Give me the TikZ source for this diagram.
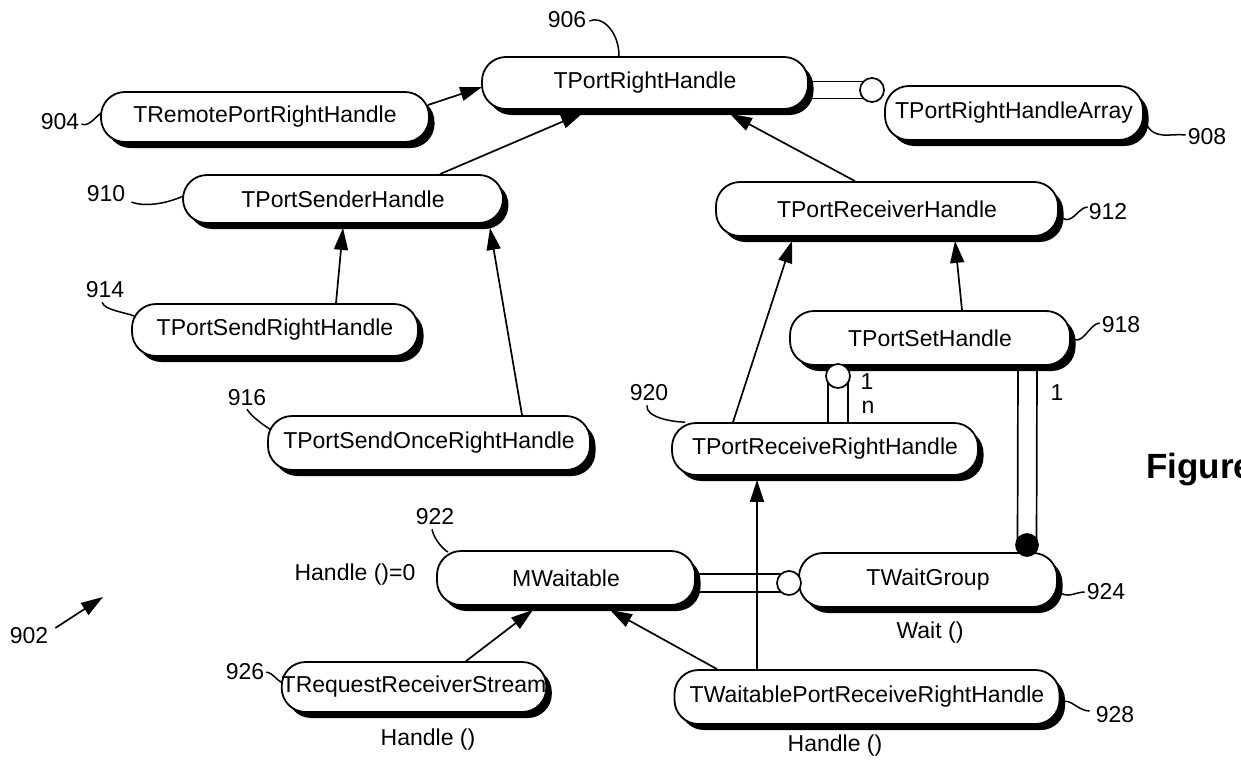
\documentclass[tikz,border=0pt]{standalone}
\usepackage{fontspec}
\setmainfont{Liberation Sans}
\usetikzlibrary{arrows.meta,shadows,calc}
\pgfdeclarelayer{bg}
\pgfsetlayers{bg,main}
\begin{document}
\begin{tikzpicture}[x=1pt,y=-1pt,
  font=\fontsize{23}{26}\selectfont,
  cls/.style={draw, line width=1.8pt, fill=white, rounded corners=24pt, inner sep=0pt,
    drop shadow={shadow xshift=5.5pt, shadow yshift=-6pt, opacity=1, fill=black}},
  arr/.style={line width=1.7pt, -{Triangle[length=22pt,width=14pt]}},
  lead/.style={line width=1.5pt},
  tube/.style={line width=1.7pt},
  ocirc/.style={circle, draw, line width=1.7pt, fill=white, minimum size=24pt, inner sep=0pt},
  fcirc/.style={circle, draw, line width=1.7pt, fill=black, minimum size=22pt, inner sep=0pt},
  lbl/.style={inner sep=0pt}]
\useasboundingbox (0,0) rectangle (1241,771);

% class nodes
\node[cls, minimum width=326pt, minimum height=52pt] (n906) at (645,83) {TPortRightHandle};
\node[cls, minimum width=328pt, minimum height=50pt] (n904) at (265,117) {TRemotePortRightHandle};
\node[cls, minimum width=258pt, minimum height=54pt] (n908) at (1014,113) {TPortRightHandleArray};
\node[cls, minimum width=320pt, minimum height=48pt] (n910) at (343,199) {TPortSenderHandle};
\node[cls, minimum width=342pt, minimum height=54pt] (n912) at (887,209) {TPortReceiverHandle};
\node[cls, minimum width=286pt, minimum height=52pt] (n914) at (275,330) {TPortSendRightHandle};
\node[cls, minimum width=322pt, minimum height=54pt] (n916) at (429,443) {TPortSendOnceRightHandle};
\node[cls, minimum width=280pt, minimum height=54pt] (n918) at (930,338) {TPortSetHandle};
\node[cls, minimum width=306pt, minimum height=52pt] (n920) at (825,449) {TPortReceiveRightHandle};
\node[cls, minimum width=258pt, minimum height=54pt] (n922) at (566,578) {MWaitable};
\node[cls, minimum width=258pt, minimum height=54pt] (n924) at (928,580) {TWaitGroup};
\node[cls, minimum width=250pt, minimum height=50pt] (n926) at (414,687) {TRequestReceiverStream};
\node[cls, minimum width=385pt, minimum height=54pt] (n928) at (867,697) {TWaitablePortReceiveRightHandle};

% aggregation circles
\node[ocirc] (o1) at (872,90) {};
\node[ocirc] (o2) at (838,376) {};
\node[fcirc] (o3) at (1027,545) {};
\node[ocirc] (o4) at (789,583) {};

% reference labels
\node[lbl] (l906) at (567,20) {906};
\node[lbl] (l904) at (60,122) {904};
\node[lbl] (l908) at (1207,137) {908};
\node[lbl] (l910) at (106,194) {910};
\node[lbl] (l912) at (1108,212) {912};
\node[lbl] (l914) at (105,290) {914};
\node[lbl] (l916) at (247,398) {916};
\node[lbl] (l918) at (1121,325) {918};
\node[lbl] (l920) at (649,393) {920};
\node[lbl] (l922) at (435,517) {922};
\node[lbl] (l924) at (1106,592) {924};
\node[lbl] (l926) at (245,672) {926};
\node[lbl] (l928) at (1115,715) {928};
\node[lbl] (l902) at (29,636) {902};
\coordinate (p902) at (103,597);

% method / multiplicity labels
\node[lbl] (m922) at (355,575) {Handle ()=0};
\node[lbl] (m924) at (930,633) {Wait ()};
\node[lbl] (m926) at (428,740) {Handle ()};
\node[lbl] (m928) at (835,746) {Handle ()};
\node[lbl] (k1) at (867,382) {1};
\node[lbl] (kn) at (868,407) {n};
\node[lbl] (k2) at (1057,393) {1};
\node[lbl, anchor=west, font=\bfseries\fontsize{35}{40}\selectfont] (fig) at (1146,470) {Figure};

\begin{pgfonlayer}{bg}
% inheritance arrows
\draw[arr] ($(n904.east)+(-2,-12)$) -- ($(n906.west)+(1,4)$);
\draw[arr] ($(n910.north)+(97,0)$) -- ($(n906.south)+(-62,3)$);
\draw[arr] ($(n912.north)+(-32,0)$) -- ($(n906.south)+(85,4)$);
\draw[arr] ($(n914.north)+(61,0)$) -- ($(n910.south)+(0,4)$);
\draw[arr] ($(n916.north)+(93,0)$) -- ($(n910.south)+(147,4)$);
\draw[arr] ($(n920.north)+(-92,0)$) -- ($(n912.south)+(-95,4)$);
\draw[arr] ($(n918.north)+(32,0)$) -- ($(n912.south)+(68,4)$);
\draw[arr] ($(n926.north)+(52,0)$) -- ($(n922.south)+(-33,4)$);
\draw[arr] ($(n928.north)+(-150,0)$) -- ($(n922.south)+(44,4)$);
\draw[arr] ($(n928.north)+(-110,0)$) -- ($(n920.south)+(-68,4)$);
\draw[arr] ($(l902.east)+(7,-8)$) -- (p902);

% aggregation tubes
\draw[tube] ($(o1.center)+(-5,-8.5)$) -- ($(n906.east)+(-10,-1.5)$);
\draw[tube] ($(o1.center)+(-5,8.5)$) -- ($(n906.east)+(-10,15.5)$);
\draw[tube] ($(o2.center)+(-10,5)$) -- ($(n920.north)+(3,5)$);
\draw[tube] ($(o2.center)+(10,5)$) -- ($(n920.north)+(23,5)$);
\draw[tube] ($(n918.south)+(88,-3)$) -- ($(o3.center)+(-9.5,0)$);
\draw[tube] ($(n918.south)+(107,-3)$) -- ($(o3.center)+(9.5,0)$);
\draw[tube] ($(n922.east)+(-8,-4)$) -- ($(o4.center)+(-5,-9)$);
\draw[tube] ($(n922.east)+(-8,14)$) -- ($(o4.center)+(-5,9)$);

% leaders
\draw[lead] ($(l906.east)+(3,1)$) .. controls +(12,-6) and +(0,-25) .. ($(n906.north)+(-26,0)$);
\draw[lead] ($(l904.east)+(2,2)$) .. controls +(8,4) and +(-6,2) .. ($(n904.west)+(3,-5)$);
\draw[lead] ($(n908.east)+(2,10)$) .. controls +(8,18) and +(-15,-2) .. ($(l908.west)+(-2,-2)$);
\draw[lead] ($(l910.east)+(6,8)$) .. controls +(15,6) and +(-12,6) .. ($(n910.west)+(1,-3)$);
\draw[lead] ($(n912.east)+(0,6)$) .. controls +(12,14) and +(-10,0) .. ($(l912.west)+(-1,-5)$);
\draw[lead] ($(l914.south)+(-3,4)$) .. controls +(3,8) and +(-10,-4) .. ($(n914.west)+(3,-14)$);
\draw[lead] ($(l916.south)+(0,3)$) .. controls +(5,8) and +(-6,-4) .. ($(n916.west)+(4,-13)$);
\draw[lead] ($(n918.east)+(0,-2)$) .. controls +(10,14) and +(-10,0) .. ($(l918.west)+(-2,-2)$);
\draw[lead] ($(l920.south)+(-2,4)$) .. controls +(-2,12) and +(-12,0) .. ($(n920.north)+(-140,0)$);
\draw[lead] ($(l922.south)+(-3,4)$) .. controls +(2,10) and +(-5,-3) .. ($(n922.north)+(-118,2)$);
\draw[lead] ($(n924.east)+(-1,10)$) .. controls +(10,10) and +(-10,0) .. ($(l924.west)+(-2,0)$);
\draw[lead] ($(l926.east)+(2,0)$) .. controls +(8,2) and +(-8,-4) .. ($(n926.west)+(2,-4)$);
\draw[lead] ($(n928.east)+(1,5)$) .. controls +(10,-4) and +(-12,0) .. ($(l928.west)+(-6,-4)$);
\end{pgfonlayer}
\end{tikzpicture}
\end{document}
